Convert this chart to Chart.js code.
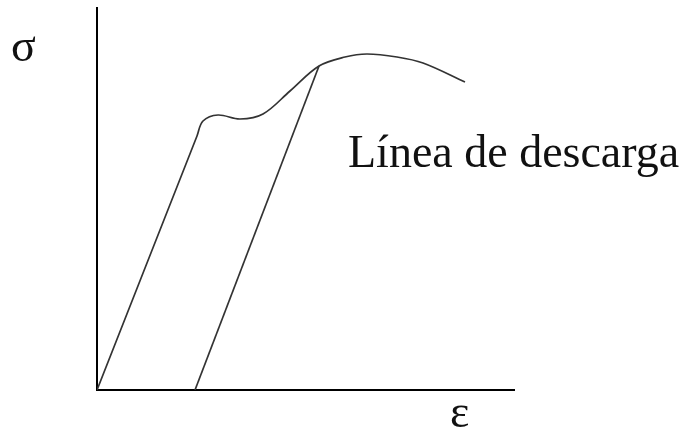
<!DOCTYPE html>
<html>
<head>
<meta charset="utf-8">
<script src="https://cdn.jsdelivr.net/npm/chart.js@4/dist/chart.umd.min.js"></script>
<style>
  html, body { margin: 0; padding: 0; background: #fff; }
  #wrap { width: 689px; height: 433px; position: relative; }
</style>
</head>
<body>
<div id="wrap"><canvas id="c" width="689" height="433"></canvas></div>
<script>
// Stress–strain curve (arbitrary units): elastic branch, yield plateau, hardening, necking
const strainCurve = [0, 100, 106, 121, 143, 166, 193, 222, 248, 270, 300, 326, 368];
const stressCurve = [0, 254, 269, 275, 271, 276, 299, 324, 333, 336, 333, 327, 308];

// Unloading line from a point on the hardening branch back to zero stress
const strainUnload = [222, 98];
const stressUnload = [324, 0];

const axisLabelY = 'σ';
const axisLabelX = 'ε';
const noteText = 'Línea de descarga';

const toPoints = (xs, ys) => xs.map((x, i) => ({ x, y: ys[i] }));

const labelsPlugin = {
  id: 'labels',
  afterDraw(chart) {
    const ctx = chart.ctx;
    const a = chart.chartArea;
    const xs = chart.scales.x, ys = chart.scales.y;
    ctx.save();
    ctx.fillStyle = '#111';
    ctx.font = '46px "Liberation Serif", "Times New Roman", serif';
    ctx.textBaseline = 'alphabetic';
    ctx.textAlign = 'left';
    ctx.fillText(axisLabelY, a.left - 86, a.top + 53);
    ctx.fillText(axisLabelX, xs.getPixelForValue(353), a.bottom + 37);
    ctx.fillText(noteText, xs.getPixelForValue(251), ys.getPixelForValue(223));
    ctx.restore();
  }
};

new Chart(document.getElementById('c'), {
  type: 'scatter',
  data: {
    datasets: [
      {
        data: toPoints(strainCurve, stressCurve),
        showLine: true,
        borderColor: '#333',
        borderWidth: 1.7,
        pointRadius: 0,
        fill: false,
        tension: 0.35
      },
      {
        data: toPoints(strainUnload, stressUnload),
        showLine: true,
        borderColor: '#333',
        borderWidth: 1.7,
        pointRadius: 0,
        fill: false
      }
    ]
  },
  options: {
    responsive: false,
    animation: false,
    layout: { padding: { left: 97, right: 175, top: 8, bottom: 43 } },
    plugins: { legend: { display: false }, tooltip: { enabled: false } },
    scales: {
      x: {
        type: 'linear', min: 0, max: 417,
        grid: { display: false, drawTicks: false },
        ticks: { display: false },
        border: { display: true, color: '#000', width: 2 },
        afterFit(s) { s.height = 0; }
      },
      y: {
        type: 'linear', min: 0, max: 382,
        grid: { display: false, drawTicks: false },
        ticks: { display: false },
        border: { display: true, color: '#000', width: 2 },
        afterFit(s) { s.width = 0; }
      }
    }
  },
  plugins: [labelsPlugin]
});
</script>
</body>
</html>
